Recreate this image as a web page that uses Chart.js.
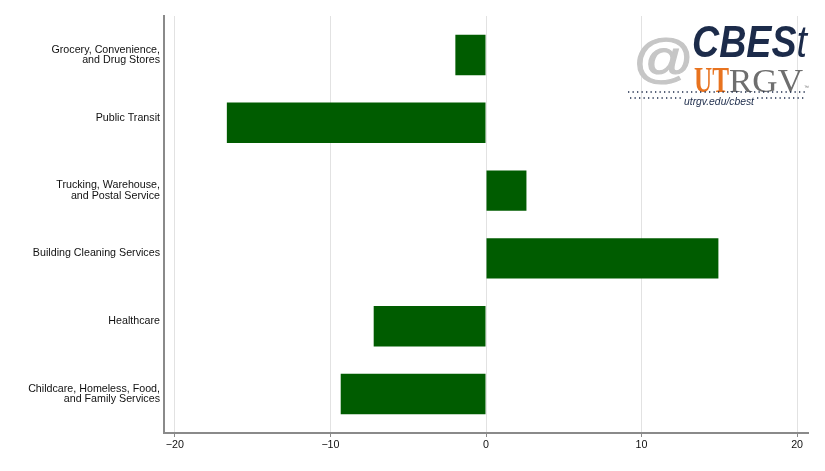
<!DOCTYPE html>
<html>
<head>
<meta charset="utf-8">
<script src="https://cdn.jsdelivr.net/npm/chart.js@4.4.1/dist/chart.umd.min.js"></script>
<style>
  html, body { margin: 0; padding: 0; background: #fff; }
  #wrap { position: relative; width: 825px; height: 471px; }
  #logo { position: absolute; left: 0; top: 0; pointer-events: none; }
</style>
</head>
<body>
<div id="wrap">
  <canvas id="c" width="825" height="471"></canvas>
  <svg id="logo" width="825" height="471" xmlns="http://www.w3.org/2000/svg">
    <text x="633" y="76" font-family="Liberation Sans, Arial, sans-serif" font-size="52" fill="#c6c6c6" stroke="#c6c6c6" stroke-width="1.2" textLength="61" lengthAdjust="spacingAndGlyphs">@</text>
    <text x="692" y="57" font-family="Liberation Sans, Arial, sans-serif" font-size="45" font-style="italic" fill="#1c2b4a" textLength="115" lengthAdjust="spacingAndGlyphs"><tspan font-weight="bold">CBES</tspan><tspan font-weight="normal">t</tspan></text>
    <text x="694" y="92" font-family="Liberation Serif, Times New Roman, serif" font-size="35" font-weight="bold" fill="#e8731f" textLength="35" lengthAdjust="spacingAndGlyphs">UT</text>
    <text x="729" y="92" font-family="Liberation Serif, Times New Roman, serif" font-size="34" fill="#6e6e6e" textLength="74" lengthAdjust="spacingAndGlyphs">RGV</text>
    <text x="804" y="89" font-family="Liberation Sans, Arial, sans-serif" font-size="5" fill="#6e6e6e">™</text>
    <line x1="628" y1="92" x2="806" y2="92" stroke="#1c2b4a" stroke-width="1.3" stroke-dasharray="1.3 3.2"/>
    <line x1="630" y1="98" x2="681" y2="98" stroke="#1c2b4a" stroke-width="1.3" stroke-dasharray="1.3 3.2"/>
    <line x1="757" y1="98" x2="806" y2="98" stroke="#1c2b4a" stroke-width="1.3" stroke-dasharray="1.3 3.2"/>
    <text x="684" y="105" font-family="Liberation Sans, Arial, sans-serif" font-size="10" font-style="italic" fill="#1c2b4a" textLength="70" lengthAdjust="spacingAndGlyphs">utrgv.edu/cbest</text>
  </svg>
</div>
<script>
const categories = [
  ["Grocery, Convenience,", "and Drug Stores"],
  "Public Transit",
  ["Trucking, Warehouse,", "and Postal Service"],
  "Building Cleaning Services",
  "Healthcare",
  ["Childcare, Homeless, Food,", "and Family Services"]
];
const values = [-1.97, -16.66, 2.60, 14.94, -7.22, -9.34];
const xTickValues = [-20, -10, 0, 10, 20];
const xTickLabels = ["\u221220", "\u221210", "0", "10", "20"];

const FONT = "'Liberation Sans', Arial, Helvetica, sans-serif";

new Chart(document.getElementById('c'), {
  type: 'bar',
  data: {
    datasets: [{
      data: values.map((v, i) => ({ x: v, y: i })),
      backgroundColor: '#005c00',
      borderWidth: 0,
      barPercentage: 0.745,
      categoryPercentage: 0.8
    }]
  },
  options: {
    indexAxis: 'y',
    responsive: false,
    animation: false,
    devicePixelRatio: 1,
    layout: { padding: { left: 0, right: 17, top: 16, bottom: 0 } },
    plugins: { legend: { display: false }, tooltip: { enabled: false } },
    scales: {
      x: {
        type: 'linear',
        min: -20.7,
        max: 20.7,
        offset: false,
        afterBuildTicks: s => { s.ticks = xTickValues.map(v => ({ value: v })); },
        ticks: {
          callback: v => xTickLabels[xTickValues.indexOf(v)],
          font: { family: FONT, size: 10.7 },
          color: '#111',
          padding: 2,
          maxRotation: 0,
          autoSkip: false
        },
        grid: { offset: false, color: '#e2e2e2', lineWidth: 1, tickColor: '#8a8a8a', tickLength: 4, drawTicks: true },
        border: { color: '#8a8a8a', width: 2 },
        afterFit: s => { s.height = 38; }
      },
      y: {
        type: 'linear',
        reverse: true,
        min: -0.575,
        max: 5.575,
        offset: false,
        afterBuildTicks: s => { s.ticks = categories.map((_, i) => ({ value: i })); },
        ticks: {
          callback: v => Array.isArray(categories[v]) ? categories[v] : [categories[v], ''],
          font: { family: FONT, size: 10.7, lineHeight: 0.95 },
          color: '#111',
          padding: 4,
          autoSkip: false
        },
        grid: { display: false, drawTicks: false, offset: false },
        border: { color: '#8a8a8a', width: 2 },
        afterFit: s => { s.width = 164; }
      }
    }
  }
});
</script>
</body>
</html>
